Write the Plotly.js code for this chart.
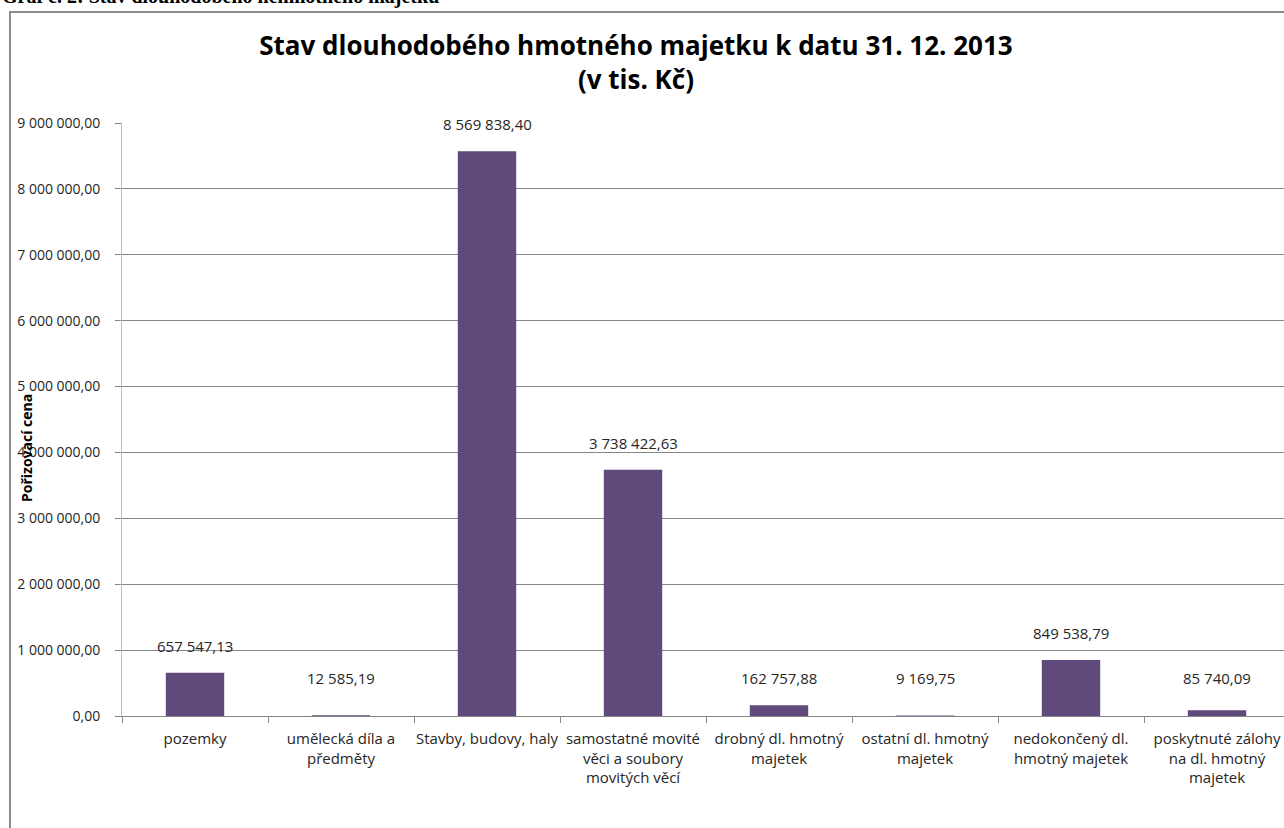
<!DOCTYPE html>
<html>
<head>
<meta charset="utf-8">
<script src="https://cdn.plot.ly/plotly-3.0.1.min.js"></script>
<style>
  html, body { margin: 0; padding: 0; background: #fff; overflow: hidden; }
  #chart { width: 1290px; height: 828px; }
</style>
</head>
<body>
<div id="chart"></div>
<script>
// kategorie dlouhodobého hmotného majetku
const categories = [
  "pozemky",
  "umělecká díla a<br>předměty",
  "Stavby, budovy, haly",
  "samostatné movité<br>věci a soubory<br>movitých věcí",
  "drobný dl. hmotný<br>majetek",
  "ostatní dl. hmotný<br>majetek",
  "nedokončený dl.<br>hmotný majetek",
  "poskytnuté zálohy<br>na dl. hmotný<br>majetek",
];
// pořizovací cena v tis. Kč
const values = [657547.13, 12585.19, 8569838.4, 3738422.63, 162757.88, 9169.75, 849538.79, 85740.09];
const yTicks = [0, 1000000, 2000000, 3000000, 4000000, 5000000, 6000000, 7000000, 8000000, 9000000];

const FONT = "'Open Sans', Lato, sans-serif";

function czFormat(v) {
  let parts = v.toFixed(2).split(".");
  let whole = parts[0].replace(/\B(?=(\d{3})+(?!\d))/g, " ");
  return whole + "," + parts[1];
}

let trace = {
  type: "bar",
  x: categories,
  y: values,
  marker: { color: "#604a7b", line: { width: 0 } },
  hoverinfo: "x+y",
  showlegend: false,
};

// popisky hodnot nad sloupci
let labels = [];
for (let i = 0; i < values.length; i++) {
  labels.push({
    x: categories[i],
    y: Math.max(values[i], 160000),
    xref: "x",
    yref: "y",
    text: czFormat(values[i]),
    showarrow: false,
    yshift: 27,
    font: { family: FONT, size: 15, color: "#262626" },
  });
}

// nadpis nad grafem (oříznutý) a popis osy
labels.push({
  xref: "paper",
  yref: "paper",
  x: -0.1045,
  y: 1.1906,
  xanchor: "left",
  yanchor: "bottom",
  text: "<b>Graf č. 2: Stav dlouhodobého nehmotného majetku</b>",
  showarrow: false,
  font: { family: "'Liberation Serif', 'Times New Roman', serif", size: 20, color: "#000" },
});
labels.push({
  xref: "paper",
  yref: "paper",
  x: -0.0813,
  y: 0.452,
  xanchor: "center",
  yanchor: "middle",
  textangle: -90,
  text: "<b>Pořizovací cena</b>",
  showarrow: false,
  font: { family: FONT, size: 14, color: "#000" },
});

let layout = {
  width: 1290,
  height: 828,
  margin: { l: 122, r: 0, t: 123, b: 112 },
  paper_bgcolor: "#fff",
  plot_bgcolor: "#fff",
  separators: ", ",
  bargap: 0.6,
  title: {
    text: "<b>Stav dlouhodobého hmotného majetku k datu 31. 12. 2013<br>(v tis. Kč)</b>",
    xref: "container",
    yref: "container",
    x: 0.493,
    y: 0.933,
    xanchor: "center",
    yanchor: "middle",
    font: { family: FONT, size: 26, color: "#000" },
  },
  xaxis: {
    type: "category",
    range: [-0.5, 7.5],
    showline: true,
    linecolor: "#868686",
    linewidth: 1,
    ticks: "outside",
    tickson: "boundaries",
    ticklen: 6,
    tickcolor: "#868686",
    tickangle: 0,
    ticklabelstandoff: 9,
    showgrid: false,
    tickfont: { family: FONT, size: 15, color: "#262626" },
    fixedrange: true,
  },
  yaxis: {
    range: [0, 9000000],
    tickvals: yTicks,
    tickformat: ",.2f",
    showline: true,
    linecolor: "#bfbfbf",
    linewidth: 1,
    ticks: "outside",
    ticklen: 6,
    tickcolor: "#868686",
    ticklabelstandoff: 12,
    showgrid: true,
    gridcolor: "#868686",
    gridwidth: 1,
    zeroline: false,
    tickfont: { family: FONT, size: 14, color: "#262626" },
    fixedrange: true,
  },
  shapes: [
    {
      type: "rect",
      xref: "paper",
      yref: "paper",
      x0: -0.0959,
      x1: 2,
      y0: -1,
      y1: 1.1872,
      line: { color: "#8c8c8c", width: 2 },
      fillcolor: "rgba(0,0,0,0)",
      layer: "below",
    },
  ],
  annotations: labels,
};

Plotly.newPlot("chart", [trace], layout, { displayModeBar: false, staticPlot: true });
</script>
</body>
</html>
